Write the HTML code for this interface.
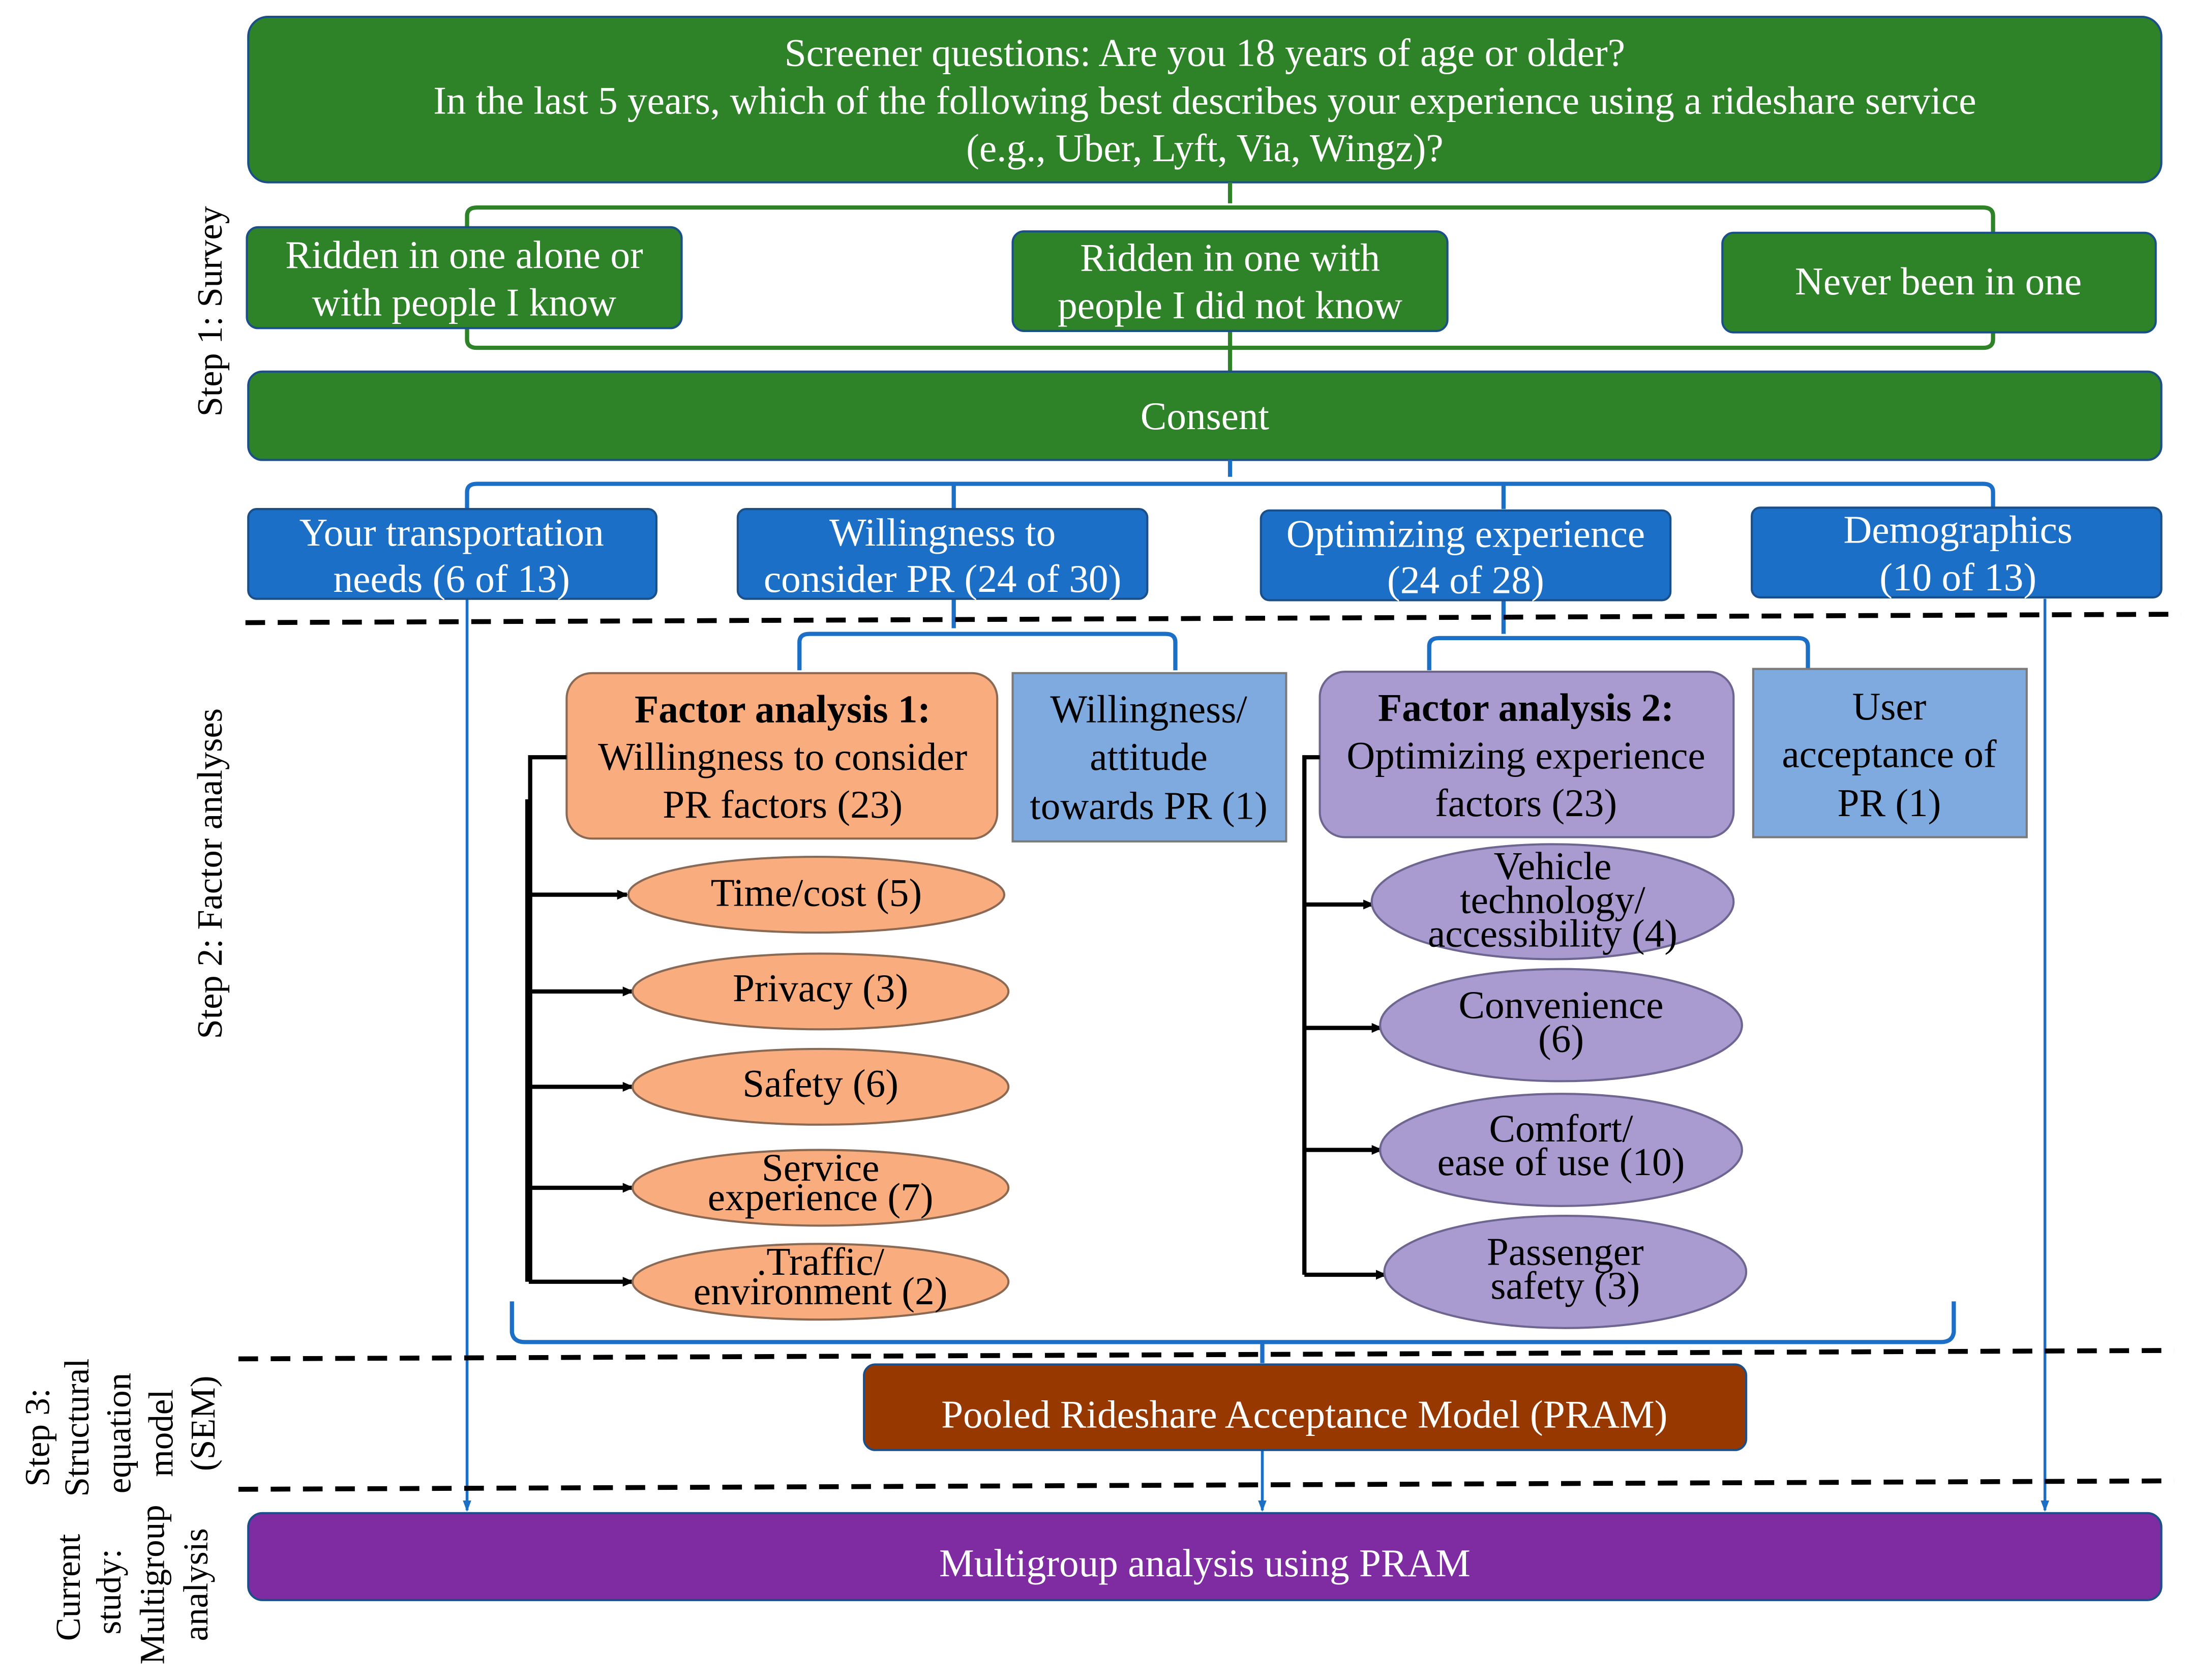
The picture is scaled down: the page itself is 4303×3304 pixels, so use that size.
<!DOCTYPE html>
<html><head><meta charset="utf-8"><style>
html,body{margin:0;padding:0;background:#fff;}
svg{display:block;}
text{font-family:"Liberation Serif",serif;}
</style></head><body>
<svg width="4303" height="3304" viewBox="0 0 1560 1198" preserveAspectRatio="none" xmlns="http://www.w3.org/2000/svg">
<defs>
<marker id="ak" markerWidth="8" markerHeight="8" refX="7" refY="4" orient="auto" markerUnits="userSpaceOnUse"><path d="M0,0.5 L8,4 L0,7.5 z" fill="#000"/></marker>
<marker id="ab" markerWidth="8" markerHeight="10" refX="7" refY="4" orient="auto" markerUnits="userSpaceOnUse"><path d="M0,1 L8,4 L0,7 z" fill="#1c6fc6"/></marker>
</defs>
<g fill="#fff" text-anchor="middle" font-size="28">
<rect x="177" y="12" width="1364" height="118" rx="14" fill="#2e8227" stroke="#1b4f8a" stroke-width="1.5"/>
<text x="859" y="47">Screener questions: Are you 18 years of age or older?</text>
<text x="859" y="81">In the last 5 years, which of the following best describes your experience using a rideshare service</text>
<text x="859" y="115">(e.g., Uber, Lyft, Via, Wingz)?</text>
</g>
<g fill="none" stroke="#2e8227" stroke-width="3">
<path d="M877,130 V145 M333,162 V154 Q333,148 340,148 H1414 Q1421,148 1421,154 V166"/>
<path d="M333,234 V242 Q333,248 340,248 H1414 Q1421,248 1421,242 V237 M877,236 V265"/>
</g>
<g fill="#fff" text-anchor="middle" font-size="28">
<rect x="176" y="162" width="310" height="72" rx="8" fill="#2e8227" stroke="#1b4f8a" stroke-width="1.5"/>
<text x="331" y="191">Ridden in one alone or</text><text x="331" y="225">with people I know</text>
<rect x="722" y="165" width="310" height="71" rx="8" fill="#2e8227" stroke="#1b4f8a" stroke-width="1.5"/>
<text x="877" y="193">Ridden in one with</text><text x="877" y="227">people I did not know</text>
<rect x="1228" y="166" width="309" height="71" rx="8" fill="#2e8227" stroke="#1b4f8a" stroke-width="1.5"/>
<text x="1382" y="210">Never been in one</text>
<rect x="177" y="265" width="1364" height="63" rx="10" fill="#2e8227" stroke="#1b4f8a" stroke-width="1.5"/>
<text x="859" y="306">Consent</text>
</g>
<g fill="none" stroke="#1c6fc6" stroke-width="3">
<path d="M877,328 V340 M333,363 V351 Q333,345 340,345 H1414 Q1421,345 1421,351 V363 M680,345 V363 M1072,345 V363"/>
<path d="M680,427 V448 M570,478 V458 Q570,452 577,452 H831 Q838,452 838,458 V478"/>
<path d="M1072,428 V452 M1019,478 V461 Q1019,455 1026,455 H1282 Q1289,455 1289,461 V478"/>
<path d="M365,928 V950 Q366,957 374,957 H1384 Q1392,957 1393,950 V928 M900,957 V972"/>
</g>
<g fill="none" stroke="#1c6fc6" stroke-width="2">
<path d="M333,427 V1077" marker-end="url(#ab)"/>
<path d="M1458,427 V1077" marker-end="url(#ab)"/>
<path d="M900,1034 V1077" marker-end="url(#ab)"/>
</g>
<g fill="#fff" text-anchor="middle" font-size="28">
<rect x="177" y="363" width="291" height="64" rx="6" fill="#1c6fc6" stroke="#1b4f8a" stroke-width="1.5"/>
<text x="322" y="389">Your transportation</text><text x="322" y="422">needs (6 of 13)</text>
<rect x="526" y="363" width="292" height="64" rx="6" fill="#1c6fc6" stroke="#1b4f8a" stroke-width="1.5"/>
<text x="672" y="389">Willingness to</text><text x="672" y="422">consider PR (24 of 30)</text>
<rect x="899" y="364" width="292" height="64" rx="6" fill="#1c6fc6" stroke="#1b4f8a" stroke-width="1.5"/>
<text x="1045" y="390">Optimizing experience</text><text x="1045" y="423">(24 of 28)</text>
<rect x="1249" y="362" width="292" height="64" rx="6" fill="#1c6fc6" stroke="#1b4f8a" stroke-width="1.5"/>
<text x="1396" y="387">Demographics</text><text x="1396" y="421">(10 of 13)</text>
</g>
<g stroke="#000" stroke-width="3.5" stroke-dasharray="14,9" fill="none">
<path d="M175,444 L1555,438"/>
<path d="M170,969 L1550,963"/>
<path d="M170,1062 L1550,1056"/>
</g>
<g text-anchor="middle" font-size="28" fill="#000">
<rect x="404" y="480" width="307" height="118" rx="18" fill="#f9ad7e" stroke="#8a6a55" stroke-width="1.5"/>
<text x="558" y="515" font-weight="bold">Factor analysis 1:</text>
<text x="558" y="549">Willingness to consider</text>
<text x="558" y="583">PR factors (23)</text>
<rect x="722" y="480" width="195" height="120" fill="#7eaadf" stroke="#7a7a7a" stroke-width="1.5"/>
<text x="819" y="515">Willingness/</text><text x="819" y="549">attitude</text><text x="819" y="584">towards PR (1)</text>
<rect x="941" y="479" width="295" height="118" rx="18" fill="#a99ad0" stroke="#6e6690" stroke-width="1.5"/>
<text x="1088" y="514" font-weight="bold">Factor analysis 2:</text>
<text x="1088" y="548">Optimizing experience</text>
<text x="1088" y="582">factors (23)</text>
<rect x="1250" y="477" width="195" height="120" fill="#7eaadf" stroke="#7a7a7a" stroke-width="1.5"/>
<text x="1347" y="513">User</text><text x="1347" y="547">acceptance of</text><text x="1347" y="582">PR (1)</text>
</g>
<g fill="none" stroke="#000" stroke-width="3">
<path d="M404,540 H378 V914 M376,570 V914"/>
<path d="M377,638 H447" marker-end="url(#ak)"/>
<path d="M377,707 H451" marker-end="url(#ak)"/>
<path d="M377,775 H451" marker-end="url(#ak)"/>
<path d="M377,847 H451" marker-end="url(#ak)"/>
<path d="M377,914 H451" marker-end="url(#ak)"/>
<path d="M941,540 H930 V909"/>
<path d="M930,645 H979" marker-end="url(#ak)"/>
<path d="M930,733 H985" marker-end="url(#ak)"/>
<path d="M930,820 H985" marker-end="url(#ak)"/>
<path d="M930,909 H988" marker-end="url(#ak)"/>
</g>
<g text-anchor="middle" font-size="28" fill="#000">
<g fill="#f9ad7e" stroke="#8a6a55" stroke-width="1.5">
<ellipse cx="582" cy="638" rx="134" ry="27"/>
<ellipse cx="585" cy="707" rx="134" ry="27"/>
<ellipse cx="585" cy="775" rx="134" ry="27"/>
<ellipse cx="585" cy="847" rx="134" ry="27"/>
<ellipse cx="585" cy="914" rx="134" ry="27"/>
</g>
<text x="582" y="646">Time/cost (5)</text>
<text x="585" y="714">Privacy (3)</text>
<text x="585" y="782">Safety (6)</text>
<text x="585" y="842">Service</text><text x="585" y="863">experience (7)</text>
<text x="585" y="909">.Traffic/</text><text x="585" y="930">environment (2)</text>
<g fill="#a99ad0" stroke="#6e6690" stroke-width="1.5">
<ellipse cx="1107" cy="643" rx="129" ry="41"/>
<ellipse cx="1113" cy="731" rx="129" ry="40"/>
<ellipse cx="1113" cy="820" rx="129" ry="40"/>
<ellipse cx="1116" cy="907" rx="129" ry="40"/>
</g>
<text x="1107" y="627">Vehicle</text><text x="1107" y="651">technology/</text><text x="1107" y="675">accessibility (4)</text>
<text x="1113" y="726">Convenience</text><text x="1113" y="750">(6)</text>
<text x="1113" y="814">Comfort/</text><text x="1113" y="838">ease of use (10)</text>
<text x="1116" y="902">Passenger</text><text x="1116" y="926">safety (3)</text>
</g>
<g fill="#fff" text-anchor="middle" font-size="28">
<rect x="616" y="973" width="629" height="61" rx="8" fill="#973800" stroke="#1b4f8a" stroke-width="1.5"/>
<text x="930" y="1018">Pooled Rideshare Acceptance Model (PRAM)</text>
<rect x="177" y="1079" width="1364" height="62" rx="10" fill="#7f2ba2" stroke="#1b4f8a" stroke-width="1.5"/>
<text x="859" y="1124">Multigroup analysis using PRAM</text>
</g>
<g fill="#000" text-anchor="middle" font-size="25.5">
<text transform="translate(158,222) rotate(-90)">Step 1: Survey</text>
<text transform="translate(158,623) rotate(-90)">Step 2: Factor analyses</text>
</g>
<g fill="#000" text-anchor="middle" font-size="25">
<text transform="translate(35,1025) rotate(-90)">Step 3:</text>
<text transform="translate(63,1018) rotate(-90)">Structural</text>
<text transform="translate(93,1022) rotate(-90)">equation</text>
<text transform="translate(123,1022) rotate(-90)">model</text>
<text transform="translate(153,1015) rotate(-90)">(SEM)</text>
<text transform="translate(57,1132) rotate(-90)">Current</text>
<text transform="translate(86,1135) rotate(-90)">study:</text>
<text transform="translate(117,1130) rotate(-90)">Multigroup</text>
<text transform="translate(148,1130) rotate(-90)">analysis</text>
</g>
</svg>
</body></html>
